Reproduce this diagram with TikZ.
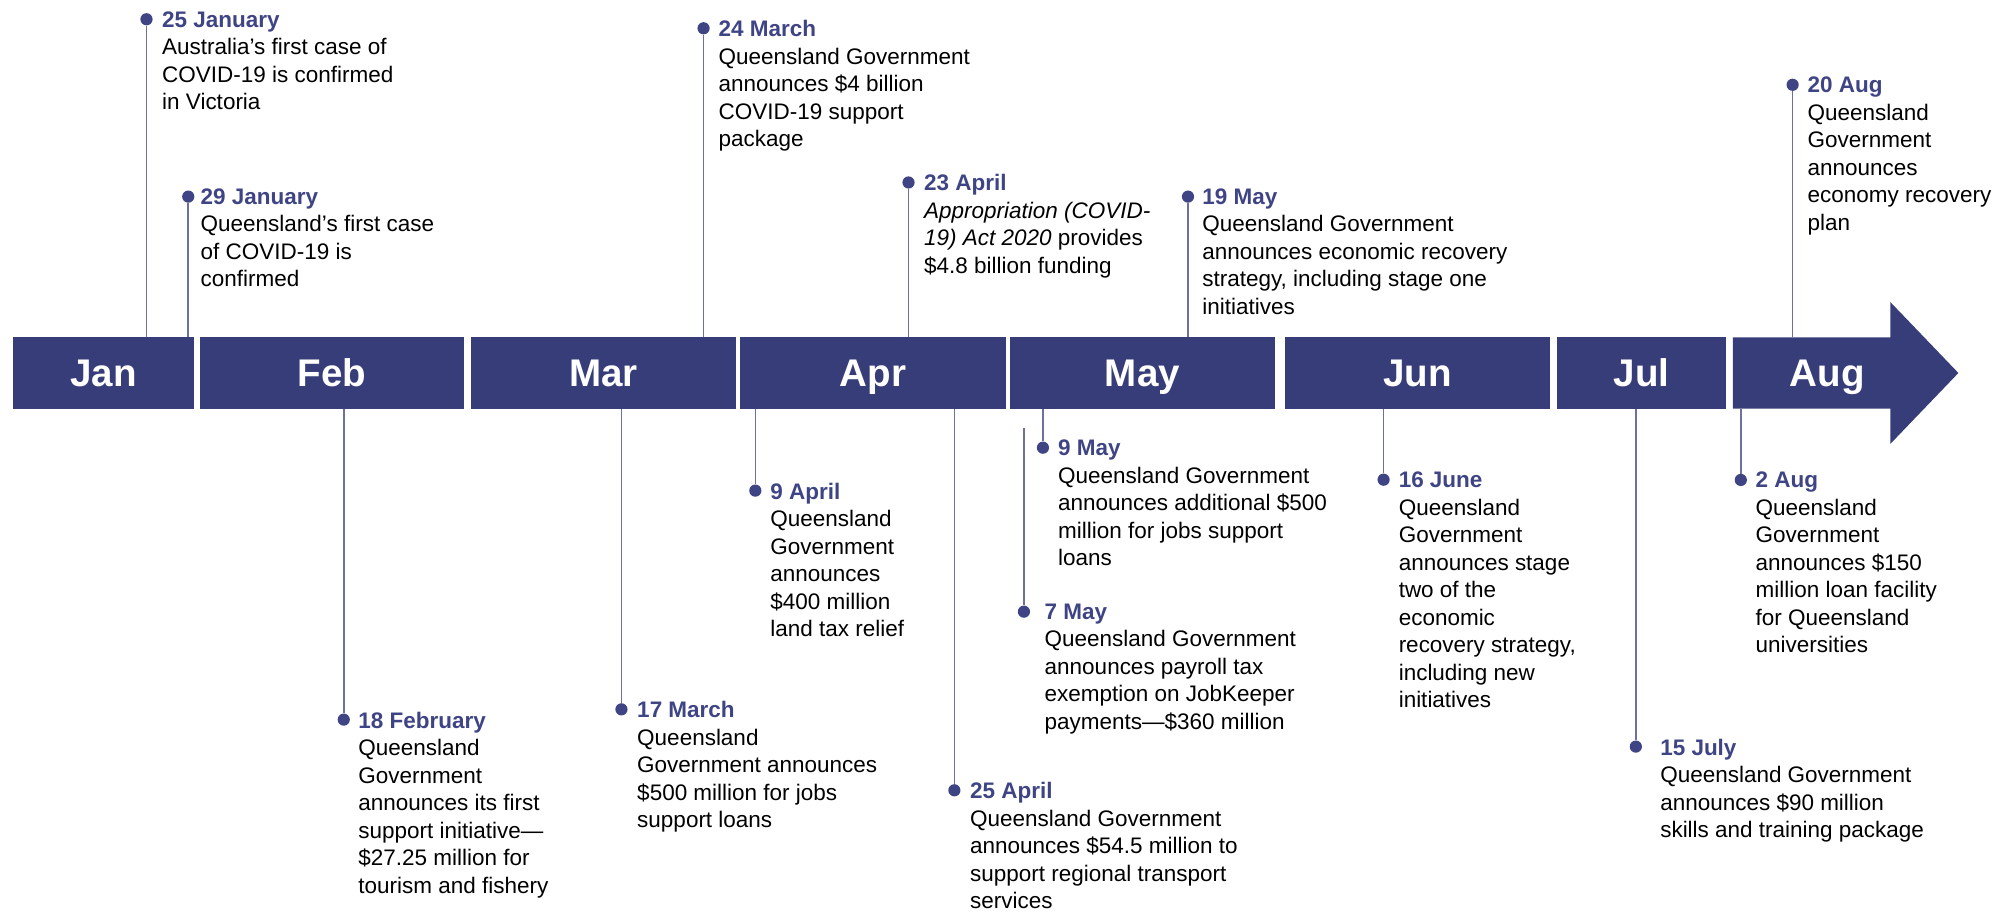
\documentclass[tikz,border=0pt]{standalone}
\usepackage{fontspec}
\setmainfont{Liberation Sans}
\usetikzlibrary{positioning}

\definecolor{barblue}{RGB}{55,61,121}
\definecolor{dateblue}{RGB}{62,68,132}
\definecolor{stemblue}{RGB}{108,113,160}

\tikzset{
  month/.style={fill=barblue, text=white, font=\fontsize{30}{30}\selectfont\bfseries,
    minimum height=55.5pt, inner sep=0pt, text height=21.5pt, text depth=0pt},
  event/.style={anchor=north west, align=left, inner sep=0pt,
    font=\fontsize{17.5}{21.4}\selectfont},
  dot/.style={circle, fill=dateblue, inner sep=0pt, minimum size=9.5pt},
  stem/.style={draw=stemblue, line width=1.2pt},
}
\newcommand{\when}[1]{\textcolor{dateblue}{\bfseries #1}}

\begin{document}
\begin{tikzpicture}[x=1pt, y=-1pt]
    \useasboundingbox (0,0) rectangle (1563.4,709.7);

    % month bar
    \node[month, minimum width=141pt] at (80.5, 290.25)(jan){Jan};
    \node[month, minimum width=205.5pt] at (258.25, 290.25)(feb){Feb};
    \node[month, minimum width=206pt] at (469.5, 290.25)(mar){Mar};
    \node[month, minimum width=207pt] at (679.5, 290.25)(apr){Apr};
    \node[month, minimum width=206pt] at (889, 290.25)(may){May};
    \node[month, minimum width=206.5pt] at (1103.25, 290.25)(jun){Jun};
    \node[month, minimum width=131pt] at (1277.5, 290.25)(jul){Jul};
    \fill[barblue] (1348.5, 262.5) -- (1471, 262.5) -- (1471, 235) -- (1524, 290.25)
        -- (1471, 345.5) -- (1471, 318) -- (1348.5, 318) -- cycle;
    \node[month, fill=none] at (1422, 290.25)(aug){Aug};

    % events above
    \node[dot] at (114, 15)(d25jan){};
    \node[event] at (126, 8.7)(t25jan){\when{25 January}\\Australia’s first case of\\COVID-19 is confirmed\\in Victoria};
    \node[dot] at (146.5, 153)(d29jan){};
    \node[event] at (156, 146.7)(t29jan){\when{29 January}\\Queensland’s first case\\of COVID-19 is\\confirmed};
    \node[dot] at (547.5, 22)(d24mar){};
    \node[event] at (559, 15.7)(t24mar){\when{24 March}\\Queensland Government\\announces \$4 billion\\COVID-19 support\\package};
    \node[dot] at (707, 142)(d23apr){};
    \node[event] at (719, 135.7)(t23apr){\when{23 April}\\\textit{Appropriation (COVID-}\\\textit{19) Act 2020} provides\\\$4.8 billion funding};
    \node[dot] at (924.5, 153)(d19may){};
    \node[event] at (935.5, 146.7)(t19may){\when{19 May}\\Queensland Government\\announces economic recovery\\strategy, including stage one\\initiatives};
    \node[dot] at (1395, 66)(d20aug){};
    \node[event] at (1406.5, 59.7)(t20aug){\when{20 Aug}\\Queensland\\Government\\announces\\economy recovery\\plan};

    % events below
    \node[dot] at (267.5, 560)(d18feb){};
    \node[event] at (278.7, 553.7)(t18feb){\when{18 February}\\Queensland\\Government\\announces its first\\support initiative—\\\$27.25 million for\\tourism and fishery};
    \node[dot] at (483.6, 552)(d17mar){};
    \node[event] at (495.7, 545.7)(t17mar){\when{17 March}\\Queensland\\Government announces\\\$500 million for jobs\\support loans};
    \node[dot] at (587.8, 381.8)(d9apr){};
    \node[event] at (599.3, 375.5)(t9apr){\when{9 April}\\Queensland\\Government\\announces\\\$400 million\\land tax relief};
    \node[dot] at (742.7, 615)(d25apr){};
    \node[event] at (754.8, 608.7)(t25apr){\when{25 April}\\Queensland Government\\announces \$54.5 million to\\support regional transport\\services};
    \node[dot] at (811.6, 348.4)(d9may){};
    \node[event] at (823.3, 342.1)(t9may){\when{9 May}\\Queensland Government\\announces additional \$500\\million for jobs support\\loans};
    \coordinate (s7may) at (796.8, 333);
    \node[dot] at (796.8, 476)(d7may){};
    \node[event] at (812.8, 469.7)(t7may){\when{7 May}\\Queensland Government\\announces payroll tax\\exemption on JobKeeper\\payments—\$360 million};
    \node[dot] at (1076.7, 373.3)(d16jun){};
    \node[event] at (1088.3, 367)(t16jun){\when{16 June}\\Queensland\\Government\\announces stage\\two of the\\economic\\recovery strategy,\\including new\\initiatives};
    \node[dot] at (1273, 581)(d15jul){};
    \node[event] at (1291.8, 574.7)(t15jul){\when{15 July}\\Queensland Government\\announces \$90 million\\skills and training package};
    \node[dot] at (1354.7, 373.5)(d2aug){};
    \node[event] at (1366, 367.2)(t2aug){\when{2 Aug}\\Queensland\\Government\\announces \$150\\million loan facility\\for Queensland\\universities};

    \path[stem]
    (d25jan)edge(d25jan |- jan.north)
    (d29jan)edge(d29jan |- jan.north)
    (d24mar)edge(d24mar |- mar.north)
    (d23apr)edge(d23apr |- apr.north)
    (d19may)edge(d19may |- may.north)
    (d20aug)edge(d20aug |- jul.north)
    (d18feb)edge(d18feb |- feb.south)
    (d17mar)edge(d17mar |- mar.south)
    (d9apr)edge(d9apr |- apr.south)
    (d25apr)edge(d25apr |- apr.south)
    (d9may)edge(d9may |- may.south)
    (s7may)edge(d7may)
    (d16jun)edge(d16jun |- jun.south)
    (d15jul)edge(d15jul |- jul.south)
    (d2aug)edge(d2aug |- jul.south)
    ;
\end{tikzpicture}
\end{document}
